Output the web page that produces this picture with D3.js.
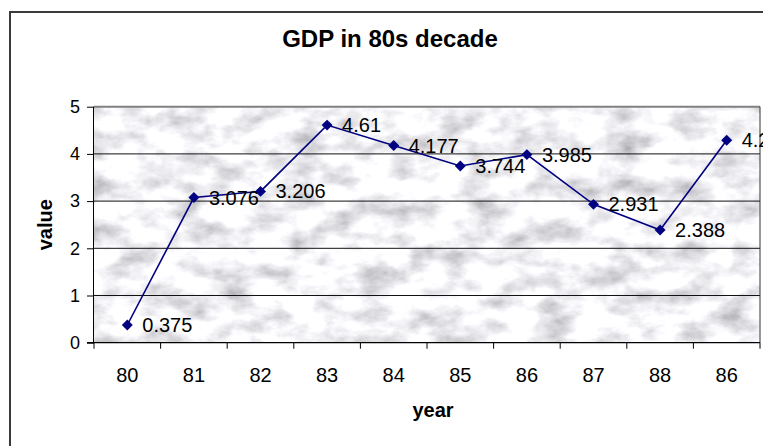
<!DOCTYPE html>
<html>
<head>
<meta charset="utf-8">
<script src="https://cdn.jsdelivr.net/npm/d3@7"></script>
<style>
  html, body { margin: 0; padding: 0; background: #ffffff; }
  svg { display: block; }
  text { font-family: "Liberation Sans", Arial, sans-serif; fill: #000; }
</style>
</head>
<body>
<svg id="chart" width="763" height="446"></svg>
<script>
// Chart data
const categories = ["80", "81", "82", "83", "84", "85", "86", "87", "88", "86"];
const values = [0.375, 3.076, 3.206, 4.61, 4.177, 3.744, 3.985, 2.931, 2.388, 4.29];
const yTickValues = [0, 1, 2, 3, 4, 5];
const titleText = "GDP in 80s decade";
const xTitle = "year";
const yTitle = "value";

const svg = d3.select("#chart");
const W = 763, H = 446;
const plot = { left: 94, right: 760, top: 106.7, bottom: 342.7 };

// Outer chart frame (runs past the right and bottom edges)
svg.append("rect")
  .attr("x", 10).attr("y", 12)
  .attr("width", W + 20).attr("height", H + 20)
  .attr("fill", "#ffffff")
  .attr("stroke", "#3a3a3a").attr("stroke-width", 2);

// Marble texture for the plot area
const defs = svg.append("defs");
const marble = defs.append("filter").attr("id", "marble")
  .attr("x", 0).attr("y", 0).attr("width", 1).attr("height", 1)
  .attr("filterUnits", "objectBoundingBox");
marble.append("feTurbulence")
  .attr("type", "fractalNoise")
  .attr("baseFrequency", "0.028 0.045")
  .attr("numOctaves", 5)
  .attr("seed", 11)
  .attr("result", "noise");
marble.append("feColorMatrix")
  .attr("in", "noise")
  .attr("type", "matrix")
  .attr("values",
    "1.15 0 0 0 0.33  " +
    "1.15 0 0 0 0.33  " +
    "1.15 0 0 0 0.36  " +
    "0 0 0 0 1");

const x = d3.scaleBand()
  .domain(d3.range(categories.length))
  .range([plot.left, plot.right])
  .paddingInner(0).paddingOuter(0);
const y = d3.scaleLinear().domain([0, 5]).range([plot.bottom, plot.top]);
const cx = i => x(i) + x.bandwidth() / 2;

svg.append("rect")
  .attr("x", plot.left).attr("y", plot.top)
  .attr("width", plot.right - plot.left).attr("height", plot.bottom - plot.top)
  .attr("fill", "#e6e6ea")
  .attr("filter", "url(#marble)");

// Horizontal gridlines
svg.append("g").selectAll("line")
  .data(yTickValues.filter(v => v > 0 && v < 5))
  .join("line")
  .attr("x1", plot.left).attr("x2", plot.right)
  .attr("y1", d => y(d)).attr("y2", d => y(d))
  .attr("stroke", "#111").attr("stroke-width", 1);

// Plot area border: grey top, dark right
svg.append("line")
  .attr("x1", plot.left).attr("x2", plot.right)
  .attr("y1", y(5)).attr("y2", y(5))
  .attr("stroke", "#808080").attr("stroke-width", 2);
svg.append("line")
  .attr("x1", plot.right).attr("x2", plot.right)
  .attr("y1", y(5)).attr("y2", y(0))
  .attr("stroke", "#333").attr("stroke-width", 1);

// Y axis
const yAxis = d3.axisLeft(y).tickValues(yTickValues).tickSize(7).tickPadding(7).tickFormat(d3.format("d"));
const gy = svg.append("g").attr("transform", `translate(${plot.left},0)`).call(yAxis);
gy.select(".domain").attr("stroke", "#000").attr("d", `M-0.5,${y(5)}V${y(0)}`);
gy.selectAll(".tick line").attr("stroke", "#000");
gy.selectAll(".tick text").attr("font-size", 18).attr("font-family", "Liberation Sans, Arial, sans-serif").attr("fill", "#000");

// X axis: labels at category centres, tick marks at category boundaries
const xAxis = d3.axisBottom(x).tickSize(0).tickPadding(25).tickFormat(i => categories[i]);
const gx = svg.append("g").attr("transform", `translate(0,${plot.bottom})`).call(xAxis);
gx.select(".domain").remove();
gx.selectAll(".tick text").attr("font-size", 20).attr("font-family", "Liberation Sans, Arial, sans-serif").attr("fill", "#000");

svg.append("line")
  .attr("x1", plot.left - 7).attr("x2", plot.right)
  .attr("y1", plot.bottom).attr("y2", plot.bottom)
  .attr("stroke", "#000").attr("stroke-width", 1.2);
const boundaries = d3.range(categories.length).map(i => x(i)).concat([x.range()[1]]);
svg.append("g").selectAll("line")
  .data(boundaries)
  .join("line")
  .attr("x1", d => d).attr("x2", d => d)
  .attr("y1", plot.bottom).attr("y2", plot.bottom + 6)
  .attr("stroke", "#000");

// Series line
const line = d3.line().x((d, i) => cx(i)).y(d => y(d));
svg.append("path")
  .datum(values)
  .attr("d", line)
  .attr("fill", "none")
  .attr("stroke", "#000080")
  .attr("stroke-width", 1.6);

// Diamond markers
const diamond = d3.symbol().type(d3.symbolSquare).size(60);
svg.append("g").selectAll("path")
  .data(values)
  .join("path")
  .attr("d", diamond)
  .attr("transform", (d, i) => `translate(${cx(i)},${y(d)}) rotate(45)`)
  .attr("fill", "#000080");

// Value labels
svg.append("g").selectAll("text")
  .data(values)
  .join("text")
  .attr("x", (d, i) => cx(i) + 15)
  .attr("y", d => y(d) + 7)
  .attr("font-size", 20)
  .text(d => String(d));

// Titles
svg.append("text")
  .attr("x", 390).attr("y", 47)
  .attr("text-anchor", "middle")
  .attr("font-size", 24).attr("font-weight", "bold")
  .text(titleText);

svg.append("text")
  .attr("x", 433).attr("y", 417)
  .attr("text-anchor", "middle")
  .attr("font-size", 20).attr("font-weight", "bold")
  .text(xTitle);

svg.append("text")
  .attr("transform", `translate(52,${(plot.top + plot.bottom) / 2}) rotate(-90)`)
  .attr("text-anchor", "middle")
  .attr("font-size", 20).attr("font-weight", "bold")
  .text(yTitle);
</script>
</body>
</html>
